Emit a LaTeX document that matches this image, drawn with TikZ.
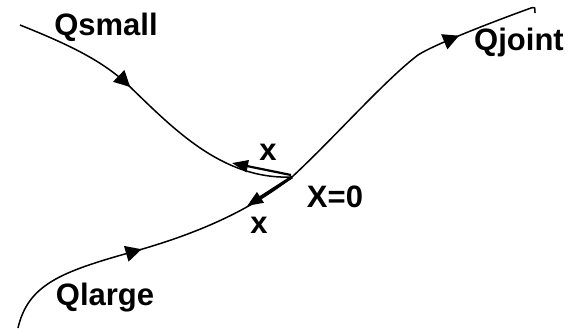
\documentclass[tikz,border=0pt]{standalone}
\usepackage{fontspec}
\setmainfont{Liberation Sans}
\usepackage{tikz}
\usetikzlibrary{arrows.meta,decorations.markings}

\begin{document}
\begin{tikzpicture}[
    x=0.5pt, y=-0.5pt,
    flowline/.style={line width=0.75pt, color=black},
    midarrow/.style={postaction={decorate}, decoration={markings, mark=at position #1 with {\arrow{Triangle[length=8pt, width=8pt]}}}},
    xarrow/.style={-{Triangle[length=8pt, width=6pt]}, color=black},
    lbl/.style={font=\fontsize{15.5}{18}\selectfont\bfseries, inner sep=0pt, anchor=base}
]
    % Frame
    \useasboundingbox (0,0) rectangle (587,328);

    % Joint point
    \coordinate (J) at (292,177);

    % Qsmall branch
    \coordinate (S0) at (20,25);
    \draw[flowline, midarrow=0.4] (S0) .. controls (70,45) and (100,60) .. (125,82)
        .. controls (170,125) and (220,180) .. (J);

    % Qlarge branch
    \coordinate (L0) at (18,328);
    \draw[flowline, midarrow=0.48] (L0) .. controls (28,285) and (60,272) .. (132,252)
        .. controls (200,233) and (250,210) .. (J);

    % Qjoint branch
    \coordinate (E0) at (535,13);
    \draw[flowline, midarrow=0.72] (J) .. controls (335,137) and (385,80) .. (418,55)
        .. controls (435,44) and (495,21) .. (531,8) .. controls (535,7) .. (E0);

    % x arrows at the joint
    \coordinate (XU) at (232,163);
    \coordinate (XL) at (247,206);
    \draw[xarrow, line width=1.1pt] (J) ++(-1,-2) -- (XU);
    \draw[xarrow, line width=1.5pt] (J) -- (XL);

    % Labels
    \node[lbl] (QS) at (106,35) {Qsmall};
    \node[lbl] (QJ) at (519,50) {Qjoint};
    \node[lbl] (QL) at (105,305) {Qlarge};
    \node[lbl] (X0) at (335,207) {X=0};
    \node[lbl] (XUL) at (268,160) {x};
    \node[lbl] (XLL) at (259,233) {x};
\end{tikzpicture}
\end{document}
